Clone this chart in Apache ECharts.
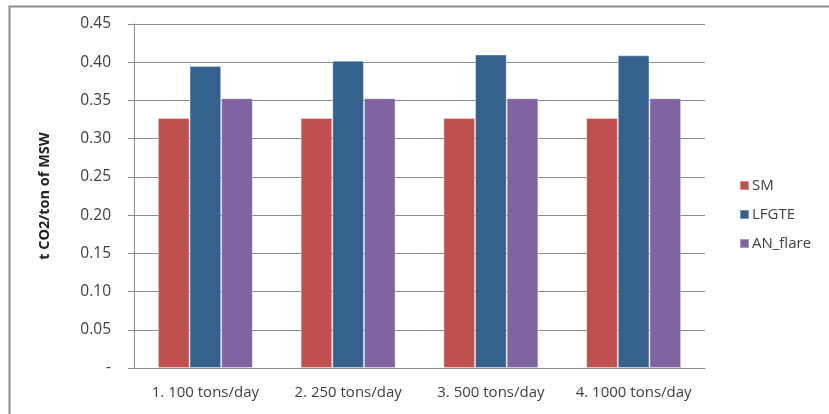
<!DOCTYPE html>
<html>
<head>
<meta charset="utf-8">
<script src="https://cdn.jsdelivr.net/npm/echarts@6/dist/echarts.min.js"></script>
<style>
  html, body { margin: 0; padding: 0; background: #fff; }
  #chart { width: 829px; height: 414px; }
</style>
</head>
<body>
<div id="chart"></div>
<script>
// Emission factor per ton of MSW, by plant capacity
const categories = ['1. 100 tons/day', '2. 250 tons/day', '3. 500 tons/day', '4. 1000 tons/day'];
const seriesNames = ['SM', 'LFGTE', 'AN_flare'];
const smValues = [0.327, 0.327, 0.327, 0.327];
const lfgteValues = [0.395, 0.402, 0.410, 0.409];
const anFlareValues = [0.353, 0.353, 0.353, 0.353];
const yTickLabels = ['-', '0.05', '0.10', '0.15', '0.20', '0.25', '0.30', '0.35', '0.40', '0.45'];

const colors = ['#C0504D', '#35618F', '#8064A2'];
const fontFamily = '"Open Sans", Lato, sans-serif';
const textColor = '#404040';
const lineColor = '#8C8C8C';

const chart = echarts.init(document.getElementById('chart'), null, { renderer: 'canvas' });

const valueSets = [smValues, lfgteValues, anFlareValues];

chart.setOption({
  animation: false,
  backgroundColor: '#fff',
  graphic: [{
    type: 'rect',
    shape: { x: 9.5, y: 6.5, width: 900, height: 500 },
    style: { fill: 'none', stroke: '#8C8C8C', lineWidth: 2 },
    silent: true
  }],
  grid: { left: 134, top: 24, width: 571, height: 344, containLabel: false },
  legend: {
    orient: 'vertical',
    left: 734,
    top: 173,
    itemWidth: 9,
    itemHeight: 9,
    itemGap: 14,
    icon: 'rect',
    textStyle: { fontFamily, fontSize: 15, color: textColor, padding: [0, 0, 0, -2] },
    data: seriesNames
  },
  xAxis: {
    type: 'category',
    data: categories,
    axisLine: { lineStyle: { color: lineColor, width: 1 } },
    axisTick: { show: false },
    axisLabel: { fontFamily, fontSize: 15, color: textColor, margin: 17, interval: 0, hideOverlap: false }
  },
  yAxis: {
    type: 'value',
    min: 0,
    max: 0.45,
    interval: 0.05,
    name: 't CO2/ton of MSW',
    nameLocation: 'middle',
    nameGap: 82,
    nameRotate: 90,
    nameTextStyle: { fontFamily, fontSize: 14.5, fontWeight: 'bold', color: '#222' },
    axisLine: { show: true, lineStyle: { color: lineColor, width: 1 } },
    axisTick: { show: true, length: 6, lineStyle: { color: lineColor } },
    splitLine: { lineStyle: { color: lineColor, width: 1 } },
    axisLabel: {
      fontFamily, fontSize: 15.5, color: textColor, margin: 23,
      formatter: (v) => yTickLabels[Math.round(v / 0.05)]
    }
  },
  series: seriesNames.map((name, i) => ({
    name,
    type: 'bar',
    data: valueSets[i],
    barGap: '0%',
    barCategoryGap: '33.5%',
    itemStyle: {
      color: colors[i],
      borderColor: 'rgba(255,255,255,0.35)',
      borderWidth: 1
    }
  }))
});
</script>
</body>
</html>
